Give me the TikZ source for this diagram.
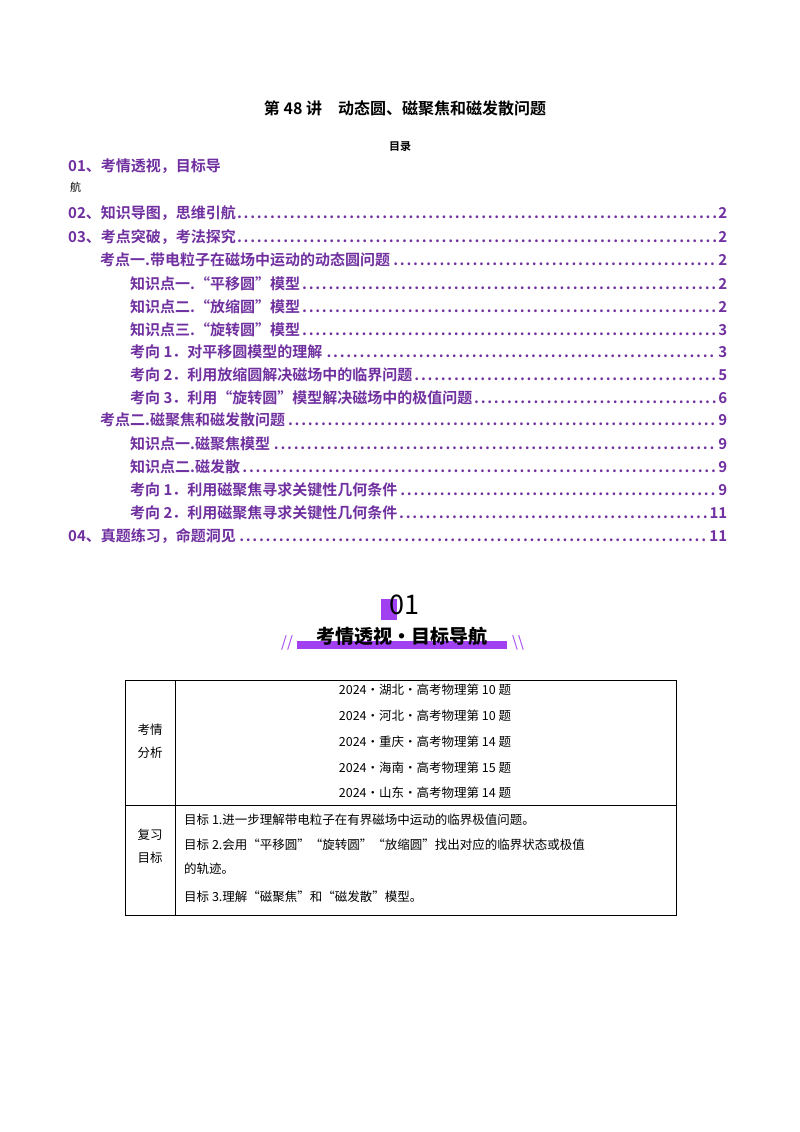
\documentclass[tikz,border=0pt]{standalone}
\usepackage{fontspec}
\setmainfont{Liberation Serif}
\newfontfamily\cjk{Noto Sans CJK SC}
\newfontfamily\cjkb{Noto Sans CJK SC Bold}
\newfontfamily\cjkh{Noto Sans CJK SC Black}
\definecolor{tocp}{HTML}{7030A0}
\definecolor{hp}{HTML}{A040F0}
\tikzset{
 toc/.style={anchor=west,inner sep=0,text=tocp,font=\cjkb\fontsize{15}{15}\selectfont},
 cell/.style={inner sep=0,font=\cjk\fontsize{12.5}{13}\selectfont},
 tl/.style={draw=black,line width=0.8pt}
}
\newcommand{\tocline}[3]{\makebox[#1][l]{#2\dotfill#3}}
\begin{document}
\begin{tikzpicture}[x=1pt,y=-1pt]
\useasboundingbox[fill=white] (0,0) rectangle (800,1132);
\node[font=\cjkb\fontsize{16}{16}\selectfont] (title) at (405,108) {第 48 讲\quad 动态圆、磁聚焦和磁发散问题};
\node[font=\cjkb\fontsize{11}{11}\selectfont] (ml) at (400,147) {目录};
\node[toc] (t1) at (68,166) {01、考情透视，目标导};
\node[anchor=west,inner sep=0,font=\cjk\fontsize{11}{11}\selectfont] (t1b) at (70,187) {航};
\node[toc] (t2) at (68,213) {\tocline{659pt}{02、知识导图，思维引航}{2}};
\node[toc] (t3) at (68,237) {\tocline{659pt}{03、考点突破，考法探究}{2}};
\node[toc] (t4) at (100,260) {\tocline{627pt}{考点一.带电粒子在磁场中运动的动态圆问题}{2}};
\node[toc] (t5) at (130,284) {\tocline{597pt}{知识点一.“平移圆”模型}{2}};
\node[toc] (t6) at (130,307) {\tocline{597pt}{知识点二.“放缩圆”模型}{2}};
\node[toc] (t7) at (130,330) {\tocline{597pt}{知识点三.“旋转圆”模型}{3}};
\node[toc] (t8) at (130,352) {\tocline{597pt}{考向 1．对平移圆模型的理解}{3}};
\node[toc] (t9) at (130,375) {\tocline{597pt}{考向 2．利用放缩圆解决磁场中的临界问题}{5}};
\node[toc] (t10) at (130,398) {\tocline{597pt}{考向 3．利用“旋转圆”模型解决磁场中的极值问题}{6}};
\node[toc] (t11) at (100,420) {\tocline{627pt}{考点二.磁聚焦和磁发散问题}{9}};
\node[toc] (t12) at (130,444) {\tocline{597pt}{知识点一.磁聚焦模型}{9}};
\node[toc] (t13) at (130,467) {\tocline{597pt}{知识点二.磁发散}{9}};
\node[toc] (t14) at (130,490) {\tocline{597pt}{考向 1．利用磁聚焦寻求关键性几何条件}{9}};
\node[toc] (t15) at (130,513) {\tocline{597pt}{考向 2．利用磁聚焦寻求关键性几何条件}{11}};
\node[toc] (t16) at (68,536) {\tocline{659pt}{04、真题练习，命题洞见}{11}};
% header
\fill[hp] (381,599) rectangle (397,620);
\node[font=\cjk\fontsize{27}{27}\selectfont] (n01) at (404,605) {01};
\fill[hp] (297,641) rectangle (507,649);
\node[font=\cjkh\fontsize{19}{19}\selectfont] (ht) at (402,636) {考情透视·目标导航};
\node[text=hp,font=\cjk\fontsize{15}{15}\selectfont] (sl) at (287,643) {//};
\node[text=hp,font=\cjk\fontsize{15}{15}\selectfont] (sr) at (518,643) {\textbackslash\textbackslash};
% table
\draw[tl] (125,680) rectangle (676,915);
\draw[tl] (175,680) -- (175,915);
\draw[tl] (125,805) -- (676,805);
\node[cell] (a1) at (150,730) {考情};
\node[cell] (a2) at (150,753) {分析};
\node[cell] (b1) at (150,835) {复习};
\node[cell] (b2) at (150,858) {目标};
\node[cell] (r1) at (425,690) {2024·湖北·高考物理第 10 题};
\node[cell] (r2) at (425,716) {2024·河北·高考物理第 10 题};
\node[cell] (r3) at (425,742) {2024·重庆·高考物理第 14 题};
\node[cell] (r4) at (425,768) {2024·海南·高考物理第 15 题};
\node[cell] (r5) at (425,793) {2024·山东·高考物理第 14 题};
\node[cell,anchor=west] (g1) at (184,820) {目标 1.进一步理解带电粒子在有界磁场中运动的临界极值问题。};
\node[cell,anchor=west] (g2) at (184,845) {目标 2.会用“平移圆”“旋转圆”“放缩圆”找出对应的临界状态或极值};
\node[cell,anchor=west] (g3) at (184,869) {的轨迹。};
\node[cell,anchor=west] (g4) at (184,897) {目标 3.理解“磁聚焦”和“磁发散”模型。};
\end{tikzpicture}
\end{document}
